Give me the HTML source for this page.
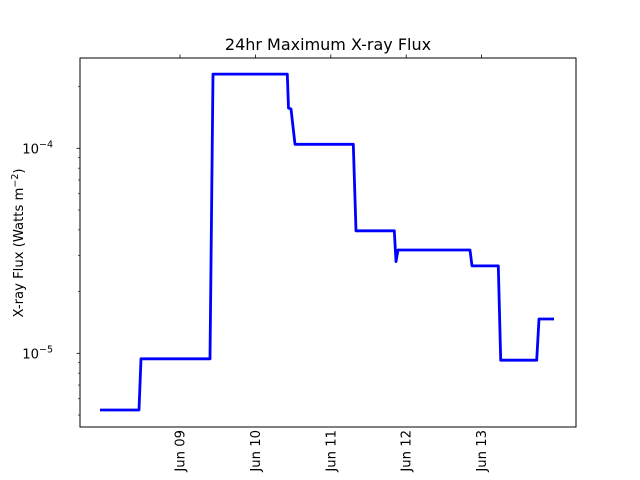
<!DOCTYPE html>
<html><head><meta charset="utf-8"><style>
body{margin:0;background:#fff}
svg{display:block;font-family:"DejaVu Sans","Liberation Sans",sans-serif}
</style></head><body>
<svg id="chart" width="640" height="480" viewBox="0 0 640 480" xmlns="http://www.w3.org/2000/svg">
<rect width="640" height="480" fill="#fff"/>
<text x="328" y="50" font-size="16" text-anchor="middle">24hr Maximum X-ray Flux</text>
<text transform="translate(23,243) rotate(-90)" font-size="13.2" text-anchor="middle">X-ray Flux (Watts m<tspan dy="-5" font-size="9.5">−2</tspan><tspan dy="5">)</tspan></text>
<g id="axes"></g>
<g id="series"></g>
<rect x="80" y="58" width="496" height="369" fill="none" stroke="#000" stroke-width="1"/>
</svg>
<script>
// time in days relative to Jun 09 00:00
const times = [-1.061,-0.544,-0.517,0.398,0.438,1.423,1.439,1.472,1.525,2.298,2.334,2.842,2.865,2.891,3.846,3.873,4.221,4.253,4.731,4.761,4.960];
const fluxValues = [5.29e-6,5.29e-6,9.4e-6,9.4e-6,2.30e-4,2.30e-4,1.57e-4,1.555e-4,1.046e-4,1.046e-4,3.96e-5,3.96e-5,2.80e-5,3.19e-5,3.19e-5,2.67e-5,2.67e-5,9.25e-6,9.25e-6,1.47e-5,1.47e-5];
const dayTicks = [0,1,2,3,4];
const dayLabels = ["Jun 09","Jun 10","Jun 11","Jun 12","Jun 13"];
const majorExps = [-4,-5];
const minorVals = [5e-6,6e-6,7e-6,8e-6,9e-6,2e-5,3e-5,4e-5,5e-5,6e-5,7e-5,8e-5,9e-5,2e-4];

const NS="http://www.w3.org/2000/svg";
const xScale = t => 180 + t*75.4;
const yScale = v => 148.3 - (Math.log10(v)+4)*205;
const axes=document.getElementById('axes');
const series=document.getElementById('series');
function mk(tag,attrs,parent){const e=document.createElementNS(NS,tag);for(const k in attrs)e.setAttribute(k,attrs[k]);parent.appendChild(e);return e;}

dayTicks.forEach((d,i)=>{
  const x=xScale(d);
  const tk=mk('line',{x1:x,x2:x,y1:58,y2:54.5,stroke:'#000','stroke-width':0.8},axes);
  
  
  const lb=mk('text',{transform:`translate(${x+4.5},430) rotate(-90)`,'font-size':13.2,'text-anchor':'end'},axes);
  lb.textContent=dayLabels[i];
  
  
});
majorExps.forEach(e=>{
  const y=yScale(Math.pow(10,e));
  const tk=mk('line',{x1:80,x2:76.5,y1:y,y2:y,stroke:'#000','stroke-width':0.8},axes);
  
  
  const lb=mk('text',{x:53,y:y+5,'font-size':13.2,'text-anchor':'end'},axes);
  lb.innerHTML='10<tspan dy="-6" font-size="9.5">−'+(-e)+'</tspan>';
  
  
});
minorVals.forEach(v=>{
  const y=yScale(v);
  if(y<58||y>427)return;
  const tk=mk('line',{x1:80,x2:78,y1:y,y2:y,stroke:'#000','stroke-width':0.6},axes);
  
  
});
const pts=times.map((t,i)=>xScale(t).toFixed(1)+','+yScale(fluxValues[i]).toFixed(1)).join(' ');
const pl=mk('polyline',{points:pts,fill:'none',stroke:'#0000ff','stroke-width':2.8,'stroke-linejoin':'round'},series);


</script>
</body></html>
